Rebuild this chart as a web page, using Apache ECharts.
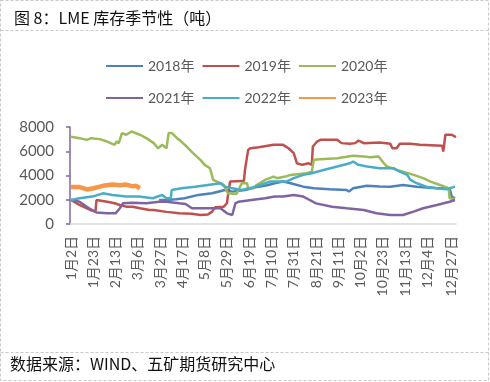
<!DOCTYPE html>
<html>
<head>
<meta charset="utf-8">
<script src="https://cdn.jsdelivr.net/npm/echarts@6/dist/echarts.min.js"></script>
<style>
html,body{margin:0;padding:0;background:#fff;}
#chart{width:490px;height:382px;}
</style>
</head>
<body>
<div id="chart"></div>
<script>
// Tick labels shown on the x axis
const tickLabels = ['1月2日','1月23日','2月13日','3月6日','3月27日','4月17日','5月8日','5月29日','6月19日','7月10日','7月31日','8月21日','9月11日','10月2日','10月23日','11月13日','12月4日','12月27日'];
const yTicks = [0, 2000, 4000, 6000, 8000];
const seriesNames = ['2018年','2019年','2020年','2021年','2022年','2023年'];
const seriesColors = ['#4F81BD','#C0504D','#9BBB59','#8064A2','#4BACC6','#F79646'];

// Series values: [day index (0 = 1月1日), inventory in tonnes]
const s2018 = [[84,1980],[91,1980],[100,2050],[108,2120],[121,2400],[134,2530],[146,2810],[153,2670],[165,2810],[178,3080],[187,3220],[193,3360],[201,3500],[208,3360],[220,3080],[230,2950],[245,2870],[261,2810],[263,2670],[267,2950],[280,3150],[292,3100],[302,3080],[314,3220],[327,3080],[346,2950],[358,2950],[360,2260],[363,2120]];
const s2019 = [[1,1980],[9,1570],[19,1160],[24,1020],[25,1980],[35,1840],[42,1710],[47,1570],[53,1430],[59,1430],[66,1300],[75,1160],[79,1160],[91,1000],[103,880],[115,850],[123,740],[130,780],[134,1020],[137,1380],[145,1430],[148,1710],[149,2400],[151,3500],[162,3550],[164,3550],[165,4460],[168,6110],[170,6250],[178,6330],[192,6530],[201,6530],[206,6250],[211,5840],[214,5010],[219,4880],[225,5010],[228,4880],[229,6390],[233,6800],[236,6940],[252,6940],[256,6670],[264,6610],[269,6670],[272,6880],[277,6670],[292,6720],[302,6610],[304,6250],[308,6250],[311,6610],[321,6610],[330,6530],[351,6450],[352,5970],[354,7360],[360,7360],[364,7160]];
const s2020 = [[1,7200],[9,7080],[16,6940],[20,7080],[28,7000],[35,6800],[42,6530],[44,6800],[46,6670],[49,7500],[53,7360],[58,7630],[66,7360],[72,7080],[79,6670],[83,6250],[87,6530],[91,6250],[93,7500],[96,7500],[101,7080],[105,6800],[110,6390],[116,5840],[123,5290],[127,4880],[132,4600],[135,3640],[142,3360],[145,3220],[149,2530],[157,2480],[162,3360],[167,3360],[168,2950],[173,2950],[176,3220],[184,3640],[192,3910],[195,3780],[203,3910],[208,4050],[223,4190],[228,4320],[230,5290],[236,5340],[252,5420],[267,5620],[277,5560],[283,5500],[291,5560],[296,5010],[299,4740],[308,4460],[314,4320],[324,4050],[333,3780],[340,3500],[349,3220],[357,2950],[358,2120],[363,2040]];
const s2021 = [[1,2000],[9,1840],[18,1300],[25,950],[35,880],[43,880],[47,1300],[50,1710],[59,1760],[72,1710],[84,1840],[91,1840],[103,1710],[109,1650],[115,1300],[127,1300],[142,1300],[148,880],[153,740],[156,1710],[159,1840],[171,1980],[184,2120],[193,2260],[201,2260],[211,2400],[220,2260],[226,1980],[232,1700],[247,1430],[261,1300],[277,1160],[289,880],[302,740],[314,740],[324,1020],[333,1300],[346,1570],[358,1840],[363,1980]];
const s2022 = [[1,1980],[9,2120],[21,2260],[31,2530],[40,2400],[53,2260],[65,2260],[78,2120],[87,2400],[91,2120],[95,2120],[96,2810],[105,2950],[118,3080],[130,3220],[142,3360],[146,3080],[153,2950],[162,2810],[175,3080],[184,3360],[189,3500],[204,3500],[211,3780],[220,4050],[228,4190],[239,4460],[252,4740],[264,5010],[267,5150],[272,4880],[280,4740],[292,4600],[305,4600],[311,4320],[318,4050],[321,3640],[327,3360],[336,3080],[346,2950],[355,2870],[363,3080]];
const s2023 = [[1,3050],[9,3050],[16,2850],[22,2950],[31,3150],[40,3250],[47,3200],[53,3250],[59,3100],[62,3150],[66,2950]];

const seriesData = [s2018, s2019, s2020, s2021, s2022, s2023];

// Category list: every day of a (non-leap) year
const days = [];
for (let i = 0; i < 365; i++) {
  const d = new Date(2021, 0, 1 + i);
  days.push((d.getMonth() + 1) + '月' + d.getDate() + '日');
}

const font = "Lato, 'Noto Sans CJK SC', sans-serif";
const chart = echarts.init(document.getElementById('chart'), null, {renderer: 'canvas'});

const series = seriesNames.map((n, i) => ({
  name: n,
  type: 'line',
  data: seriesData[i],
  symbol: 'none',
  lineStyle: {width: i === 5 ? 4.5 : 2.5, color: seriesColors[i]},
  itemStyle: {color: seriesColors[i]},
  animation: false
}));

const legendCommon = {
  left: 100,
  itemWidth: 37,
  itemHeight: 14,
  itemGap: 7,
  itemStyle: {opacity: 0},
  textStyle: {fontFamily: font, fontSize: 14, color: '#595959'},
  selectedMode: false
};

chart.setOption({
  animation: false,
  title: {
    text: '图 8：LME 库存季节性（吨）',
    left: 9, top: 5,
    textStyle: {fontFamily: "'Noto Sans CJK SC', sans-serif", fontSize: 16, fontWeight: 'normal', color: '#111'}
  },
  legend: [
    Object.assign({top: 54, data: seriesNames.slice(0, 3)}, legendCommon),
    Object.assign({top: 86, data: seriesNames.slice(3)}, legendCommon)
  ],
  grid: {left: 70, right: 34, top: 127, bottom: 158},
  xAxis: {
    type: 'category',
    data: days,
    boundaryGap: false,
    axisLine: {lineStyle: {color: '#d9d9d9', width: 1.5}},
    axisTick: {show: false},
    axisLabel: {
      rotate: 90,
      margin: 12,
      fontFamily: font,
      fontSize: 14,
      color: '#595959',
      interval: function (idx, val) { return tickLabels.indexOf(val) >= 0; }
    },
    splitLine: {show: false}
  },
  yAxis: {
    type: 'value',
    min: yTicks[0], max: yTicks[yTicks.length - 1], interval: 2000,
    axisLine: {show: true, lineStyle: {color: '#8064A2', width: 1.5}},
    axisTick: {show: true, length: 4, lineStyle: {color: '#8064A2', width: 1.5}},
    axisLabel: {margin: 16, fontFamily: font, fontSize: 15, color: '#595959', formatter: function (v) { return String(v); }},
    splitLine: {show: false}
  },
  graphic: [
    {type: 'rect', shape: {x: 0.5, y: 0.5, width: 488, height: 380}, style: {fill: 'none', stroke: '#c8c8c8', lineWidth: 1, lineDash: [3, 2]}, silent: true},
    {type: 'line', shape: {x1: 0.5, y1: 30.5, x2: 488.5, y2: 30.5}, style: {stroke: '#c8c8c8', lineWidth: 1, lineDash: [3, 2]}, silent: true},
    {type: 'line', shape: {x1: 0.5, y1: 352.5, x2: 488.5, y2: 352.5}, style: {stroke: '#c8c8c8', lineWidth: 1, lineDash: [3, 2]}, silent: true},
    {type: 'text', left: 10, top: 356, style: {text: '数据来源：WIND、五矿期货研究中心', font: "16px 'Noto Sans CJK SC', sans-serif", fill: '#111'}, silent: true}
  ],
  series: series
});
</script>
</body>
</html>
